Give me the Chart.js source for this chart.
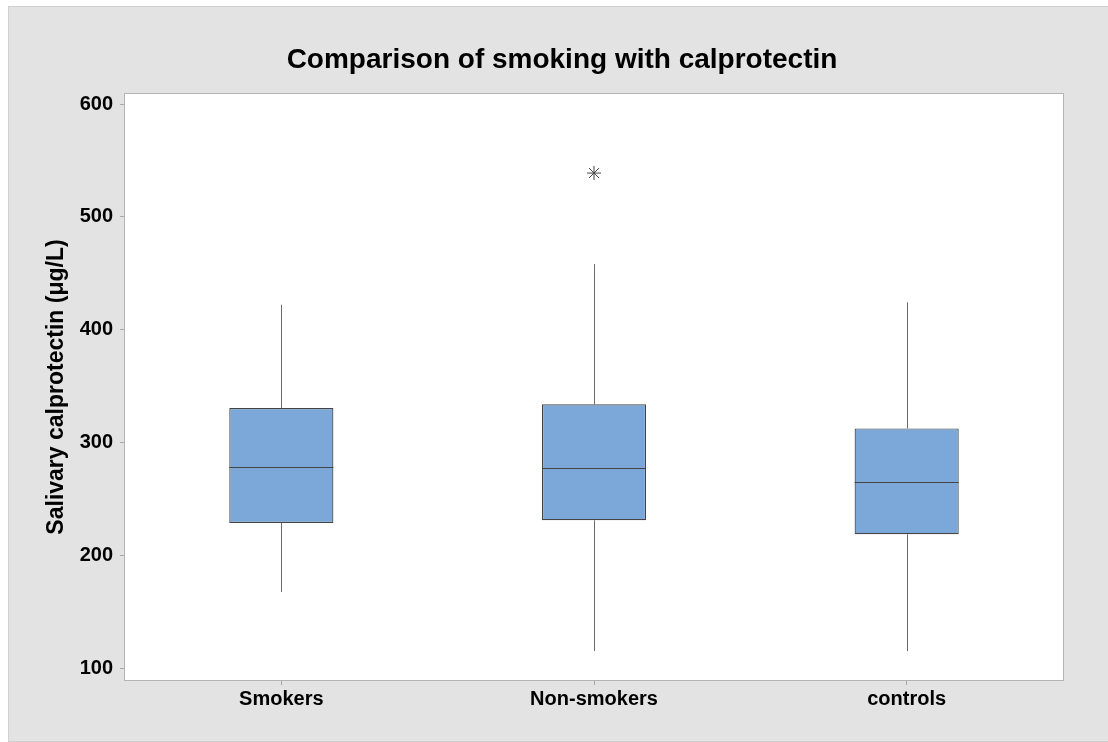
<!DOCTYPE html>
<html>
<head>
<meta charset="utf-8">
<script src="https://cdn.jsdelivr.net/npm/chart.js@4.4.1/dist/chart.umd.min.js"></script>
<style>
  html, body { margin: 0; padding: 0; background: #ffffff; }
  #wrap { width: 1108px; height: 742px; }
</style>
</head>
<body>
<div id="wrap"><canvas id="c" width="1108" height="742"></canvas></div>
<script>
// Box plot summary per group (µg/L)
const groups      = ['Smokers', 'Non-smokers', 'controls'];
const whiskerLow  = [168.0, 115.6, 115.6];
const quartile1   = [229.0, 231.4, 219.0];
const medians     = [278.8, 277.4, 265.0];
const quartile3   = [330.8, 334.1, 312.8];
const whiskerHigh = [422.3, 458.3, 424.4];
const outliers    = [null, 538.9, null];
const yTicks      = [100, 200, 300, 400, 500, 600];

const chartTitle = 'Comparison of smoking with calprotectin';
const yTitle = 'Salivary calprotectin (μg/L)';

const FONT = '"Liberation Sans", Arial, Helvetica, sans-serif';
const BOX_FILL = '#7ba7d9';
const BOX_EDGE = '#444444';
const WHISKER = '#6a6a6a';

const crisp = v => Math.round(v) + 0.5;

const boxPlotExtras = {
  id: 'boxPlotExtras',
  beforeDraw(chart) {
    const { ctx, chartArea: a, width, height } = chart;
    ctx.save();
    ctx.fillStyle = '#ffffff';
    ctx.fillRect(0, 0, width, height);
    // figure panel
    ctx.fillStyle = '#e3e3e3';
    ctx.fillRect(9, 7, width - 9, 734);
    ctx.strokeStyle = '#d0d0d0';
    ctx.lineWidth = 1;
    ctx.strokeRect(8.5, 6.5, width, 735);
    // plot panel
    ctx.fillStyle = '#ffffff';
    ctx.fillRect(a.left, a.top, a.right - a.left, a.bottom - a.top);
    ctx.restore();
  },
  beforeDatasetsDraw(chart) {
    const { ctx } = chart;
    const x = chart.scales.x, y = chart.scales.y;
    ctx.save();
    ctx.strokeStyle = WHISKER;
    ctx.lineWidth = 1;
    groups.forEach((g, i) => {
      const px = crisp(x.getPixelForValue(i));
      ctx.beginPath();
      ctx.moveTo(px, y.getPixelForValue(whiskerLow[i]));
      ctx.lineTo(px, y.getPixelForValue(quartile1[i]));
      ctx.moveTo(px, y.getPixelForValue(quartile3[i]));
      ctx.lineTo(px, y.getPixelForValue(whiskerHigh[i]));
      ctx.stroke();
    });
    ctx.restore();
  },
  afterDatasetsDraw(chart) {
    const { ctx } = chart;
    const y = chart.scales.y;
    const bars = chart.getDatasetMeta(0).data;
    ctx.save();
    ctx.strokeStyle = BOX_EDGE;
    ctx.lineWidth = 1;
    bars.forEach((bar, i) => {
      const py = crisp(y.getPixelForValue(medians[i]));
      ctx.beginPath();
      ctx.moveTo(bar.x - bar.width / 2, py);
      ctx.lineTo(bar.x + bar.width / 2, py);
      ctx.stroke();
    });
    ctx.restore();
  },
  afterDraw(chart) {
    const { ctx, chartArea: a } = chart;
    ctx.save();
    ctx.strokeStyle = '#b4b4b4';
    ctx.lineWidth = 1;
    ctx.strokeRect(crisp(a.left) - 1, crisp(a.top) - 1, Math.round(a.right - a.left) + 1, Math.round(a.bottom - a.top) + 1);
    ctx.fillStyle = '#000000';
    ctx.font = 'bold 28px ' + FONT;
    ctx.textAlign = 'center';
    ctx.textBaseline = 'alphabetic';
    ctx.fillText(chartTitle, 562, 68);
    ctx.restore();
  }
};

new Chart(document.getElementById('c'), {
  type: 'bar',
  data: {
    labels: groups,
    datasets: [
      {
        data: groups.map((g, i) => [quartile1[i], quartile3[i]]),
        backgroundColor: BOX_FILL,
        borderColor: BOX_EDGE,
        borderWidth: 1.2,
        borderSkipped: false,
        barPercentage: 0.333,
        categoryPercentage: 1.0
      },
      {
        type: 'line',
        data: outliers,
        showLine: false,
        pointStyle: 'star',
        pointRadius: 7,
        borderColor: '#444444',
        backgroundColor: 'rgba(0,0,0,0)',
        borderWidth: 1
      }
    ]
  },
  options: {
    responsive: false,
    devicePixelRatio: 1,
    animation: false,
    layout: { padding: { left: 0, right: 45, top: 94, bottom: 0 } },
    plugins: {
      legend: { display: false },
      tooltip: { enabled: false },
      title: { display: false }
    },
    scales: {
      x: {
        type: 'category',
        offset: true,
        border: { display: false },
        grid: { display: true, drawOnChartArea: false, drawTicks: true, tickLength: 5, color: '#a8a8a8', offset: false },
        ticks: { color: '#000000', padding: 2, font: { family: FONT, size: 20, weight: 'bold' } },
        afterFit(s) { s.height = 62; }
      },
      y: {
        min: 90,
        max: 608.9,
        border: { display: false },
        grid: { display: true, drawOnChartArea: false, drawTicks: true, tickLength: 5, color: '#a8a8a8' },
        ticks: { color: '#000000', padding: 7, font: { family: FONT, size: 20, weight: 'bold' } },
        afterBuildTicks(s) { s.ticks = yTicks.map(v => ({ value: v })); },
        title: {
          display: true,
          text: yTitle,
          color: '#000000',
          font: { family: FONT, size: 23, weight: 'bold' },
          padding: { top: 43, bottom: 0 }
        },
        afterFit(s) { s.width = 125; }
      }
    }
  },
  plugins: [boxPlotExtras]
});
</script>
</body>
</html>
